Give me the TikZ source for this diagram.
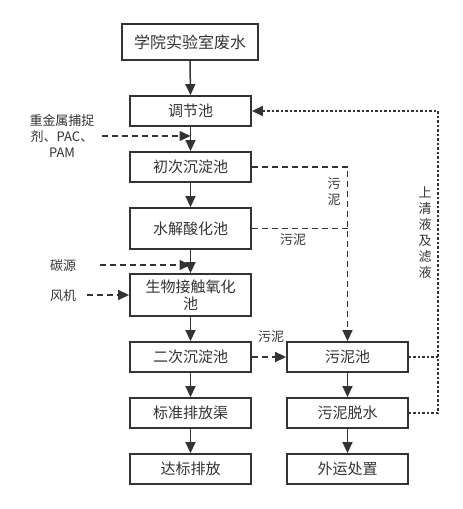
\documentclass[tikz,border=0pt]{standalone}
\usepackage{fontspec}
\setmainfont{Noto Sans CJK SC}
\usetikzlibrary{arrows.meta}
\definecolor{ink}{HTML}{333333}
\begin{document}
\begin{tikzpicture}[x=1pt,y=-1pt,
  box/.style={draw=ink,line width=1.8pt,text=ink,minimum width=121pt,minimum height=30pt,inner sep=0pt,font=\fontsize{15}{17}\selectfont,align=center},
  flow/.style={draw=ink,line width=1.5pt,-{Triangle[length=11pt,width=10pt]}},
  dflow/.style={draw=ink,line width=1.5pt,dash pattern=on 6pt off 4pt},
  dotline/.style={draw=ink,line width=1.5pt,dash pattern=on 2.5pt off 2pt},
  tip/.style={-{Triangle[length=11pt,width=10pt]}},
  lab/.style={text=ink,inner sep=0pt,font=\fontsize{13}{16}\selectfont,align=center}]
\useasboundingbox (0,0) rectangle (463,509);
% left column
\node[box,minimum width=136pt,minimum height=36pt,font=\fontsize{16}{18}\selectfont] (n1) at (190,42) {学院实验室废水};
\node[box] (n2) at (190.5,111) {调节池};
\node[box] (n3) at (190.5,167) {初次沉淀池};
\node[box,minimum height=41pt] (n4) at (190.5,228.5) {水解酸化池};
\node[box,minimum height=42pt] (n5) at (190.5,295) {生物接触氧化\\池};
\node[box] (n6) at (190.5,357) {二次沉淀池};
\node[box] (n7) at (190.5,413) {标准排放渠};
\node[box] (n8) at (190.5,469) {达标排放};
% right column
\node[box] (r1) at (347.5,357) {污泥池};
\node[box] (r2) at (347.5,413) {污泥脱水};
\node[box] (r3) at (347.5,469) {外运处置};
% main flow
\draw[flow] (n1.south) -- (n2.north);
\draw[flow] (n2.south) -- (n3.north);
\draw[flow] (n3.south) -- (n4.north);
\draw[flow] (n4.south) -- (n5.north);
\draw[flow] (n5.south) -- (n6.north);
\draw[flow] (n6.south) -- (n7.north);
\draw[flow] (n7.south) -- (n8.north);
\draw[flow] (r1.south) -- (r2.north);
\draw[flow] (r2.south) -- (r3.north);
% inputs
\node[lab] (hm) at (62,136) {重金属捕捉\\剂、PAC、\\PAM};
\coordinate (hmS) at (102,136);
\coordinate (hmE) at (190.5,136);
\draw[dflow,tip] (hmS) -- (hmE);
\node[lab] (cs) at (63,266) {碳源};
\coordinate (csS) at (100,265);
\coordinate (csE) at (190.5,265);
\draw[dflow,tip] (csS) -- (csE);
\node[lab] (fj) at (63,296) {风机};
\coordinate (fjS) at (87,295);
\draw[dflow,tip] (fjS) -- (n5.west);
% sludge lines
\coordinate (c1) at (347.5,167);
\coordinate (c2) at (347.5,228.5);
\draw[dflow,tip] (n3.east) -- (c1) -- (r1.north);
\draw[dflow] (n4.east) -- (c2);
\draw[dflow,tip] (n6.east) -- (r1.west);
\node[lab] (s1) at (334,192) {污\\泥};
\node[lab] (s2) at (293,240) {污泥};
\node[lab] (s3) at (271,337) {污泥};
% return line
\coordinate (d1) at (438,357);
\coordinate (d2) at (438,413);
\coordinate (d3) at (438,111);
\draw[dotline] (r1.east) -- (d1);
\draw[dotline,tip] (r2.east) -- (d2) -- (d3) -- (n2.east);
\node[lab] (rt) at (425,233) {上\\清\\液\\及\\滤\\液};
\end{tikzpicture}
\end{document}
